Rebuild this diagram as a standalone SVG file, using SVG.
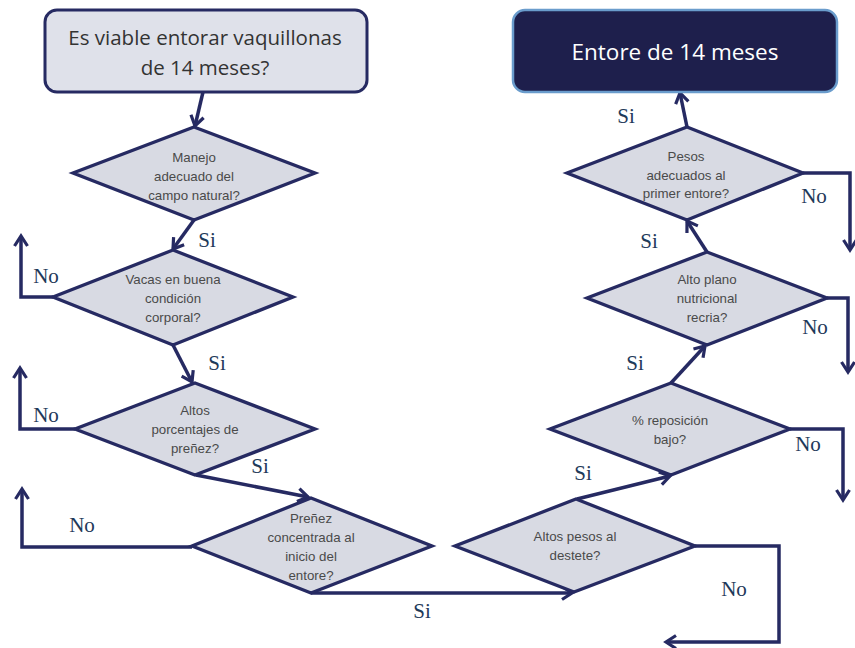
<svg xmlns="http://www.w3.org/2000/svg" width="855" height="648" viewBox="0 0 855 648">
<style>
.dia{fill:#d8dae3;stroke:#262a62;stroke-width:3.3;stroke-linejoin:miter}
.dt{font-family:"Liberation Sans",Arial,sans-serif;font-size:13.3px;fill:#4a4a4a;text-anchor:middle}
.lbl{font-family:"Liberation Serif","Times New Roman",serif;font-size:21px;fill:#1f3a5a;text-anchor:middle}
.con{fill:none;stroke:#262a62;stroke-width:3.5;stroke-linejoin:miter;marker-end:url(#ah)}
</style>
<defs>
<marker id="ah" markerUnits="userSpaceOnUse" markerWidth="16" markerHeight="16" viewBox="0 0 16 16" refX="13" refY="8" orient="auto">
<path d="M3,1.5 L13,8 L3,14.5" fill="none" stroke="#262a62" stroke-width="3.2"/>
</marker>
</defs>
<rect width="855" height="648" fill="#ffffff"/>
<g id="connectors">
<path class="con" d="M203,92 L195,126"/>
<path class="con" d="M194,220 L173,249"/>
<path class="con" d="M53,297 L21,297 L21,236"/>
<path class="con" d="M173,345 L192,382"/>
<path class="con" d="M75,429 L20,429 L20,368"/>
<path class="con" d="M196,475 L308,497"/>
<path class="con" d="M192,547 L22,547 L22,489"/>
<path class="con" d="M311,593 L572,593"/>
<path class="con" d="M695,546 L779,546 L779,642 L666,642"/>
<path class="con" d="M577,499 L670,476"/>
<path class="con" d="M790,429 L843,429 L843,500"/>
<path class="con" d="M671,383 L705,346"/>
<path class="con" d="M827,298 L848,298 L848,372"/>
<path class="con" d="M707,252 L687,221"/>
<path class="con" d="M803,173 L850,173 L850,250"/>
<path class="con" d="M687,127 L680,93"/>
</g>
<g id="start">
<rect x="45" y="10" width="322" height="82" rx="12" fill="#dfe1ea" stroke="#262a62" stroke-width="3"/>
<text x="205" y="45" font-family="'Open Sans','Liberation Sans',sans-serif" font-size="20.5" fill="#333" text-anchor="middle">Es viable entorar vaquillonas</text>
<text x="205" y="75" font-family="'Open Sans','Liberation Sans',sans-serif" font-size="20.5" fill="#333" text-anchor="middle">de 14 meses?</text>
</g>
<g id="end">
<rect x="513" y="10" width="324" height="82" rx="12" fill="#1e1f4c" stroke="#6a9ccc" stroke-width="2.5"/>
<text x="675" y="60" font-family="'Open Sans','Liberation Sans',sans-serif" font-size="22.5" fill="#ffffff" text-anchor="middle">Entore de 14 meses</text>
</g>
<g id="d1">
<polygon class="dia" points="194,127 315,173 194,220 73,173"/>
<text class="dt" x="194" y="162">Manejo</text>
<text class="dt" x="194" y="181">adecuado del</text>
<text class="dt" x="194" y="200">campo natural?</text>
</g>
<g id="d2">
<polygon class="dia" points="173,250 293,297 173,345 53,297"/>
<text class="dt" x="173" y="284">Vacas en buena</text>
<text class="dt" x="173" y="303">condición</text>
<text class="dt" x="173" y="322">corporal?</text>
</g>
<g id="d3">
<polygon class="dia" points="195,383 315,429 195,475 75,429"/>
<text class="dt" x="195" y="415">Altos</text>
<text class="dt" x="195" y="434">porcentajes de</text>
<text class="dt" x="195" y="453">preñez?</text>
</g>
<g id="d4">
<polygon class="dia" points="311,498 432,546 311,593 192,546"/>
<text class="dt" x="311" y="523">Preñez</text>
<text class="dt" x="311" y="542">concentrada al</text>
<text class="dt" x="311" y="561">inicio del</text>
<text class="dt" x="311" y="580">entore?</text>
</g>
<g id="d5">
<polygon class="dia" points="576,499 695,546 574,592 455,546"/>
<text class="dt" x="575" y="541">Altos pesos al</text>
<text class="dt" x="575" y="560">destete?</text>
</g>
<g id="d6">
<polygon class="dia" points="671,383 790,429 671,475 550,429"/>
<text class="dt" x="670" y="425">% reposición</text>
<text class="dt" x="670" y="444">bajo?</text>
</g>
<g id="d7">
<polygon class="dia" points="707,252 827,298 707,345 587,298"/>
<text class="dt" x="707" y="284">Alto plano</text>
<text class="dt" x="707" y="303">nutricional</text>
<text class="dt" x="707" y="322">recria?</text>
</g>
<g id="d8">
<polygon class="dia" points="687,127 803,173 687,220 567,173"/>
<text class="dt" x="686" y="161">Pesos</text>
<text class="dt" x="686" y="180">adecuados al</text>
<text class="dt" x="686" y="198">primer entore?</text>
</g>
<g id="labels">
<text class="lbl" x="207" y="247">Si</text>
<text class="lbl" x="46" y="283">No</text>
<text class="lbl" x="217" y="370">Si</text>
<text class="lbl" x="46" y="422">No</text>
<text class="lbl" x="260" y="473">Si</text>
<text class="lbl" x="82" y="532">No</text>
<text class="lbl" x="422" y="618">Si</text>
<text class="lbl" x="734" y="596">No</text>
<text class="lbl" x="583" y="480">Si</text>
<text class="lbl" x="808" y="451">No</text>
<text class="lbl" x="635" y="370">Si</text>
<text class="lbl" x="815" y="334">No</text>
<text class="lbl" x="649" y="248">Si</text>
<text class="lbl" x="814" y="203">No</text>
<text class="lbl" x="626" y="123">Si</text>
</g>
</svg>
